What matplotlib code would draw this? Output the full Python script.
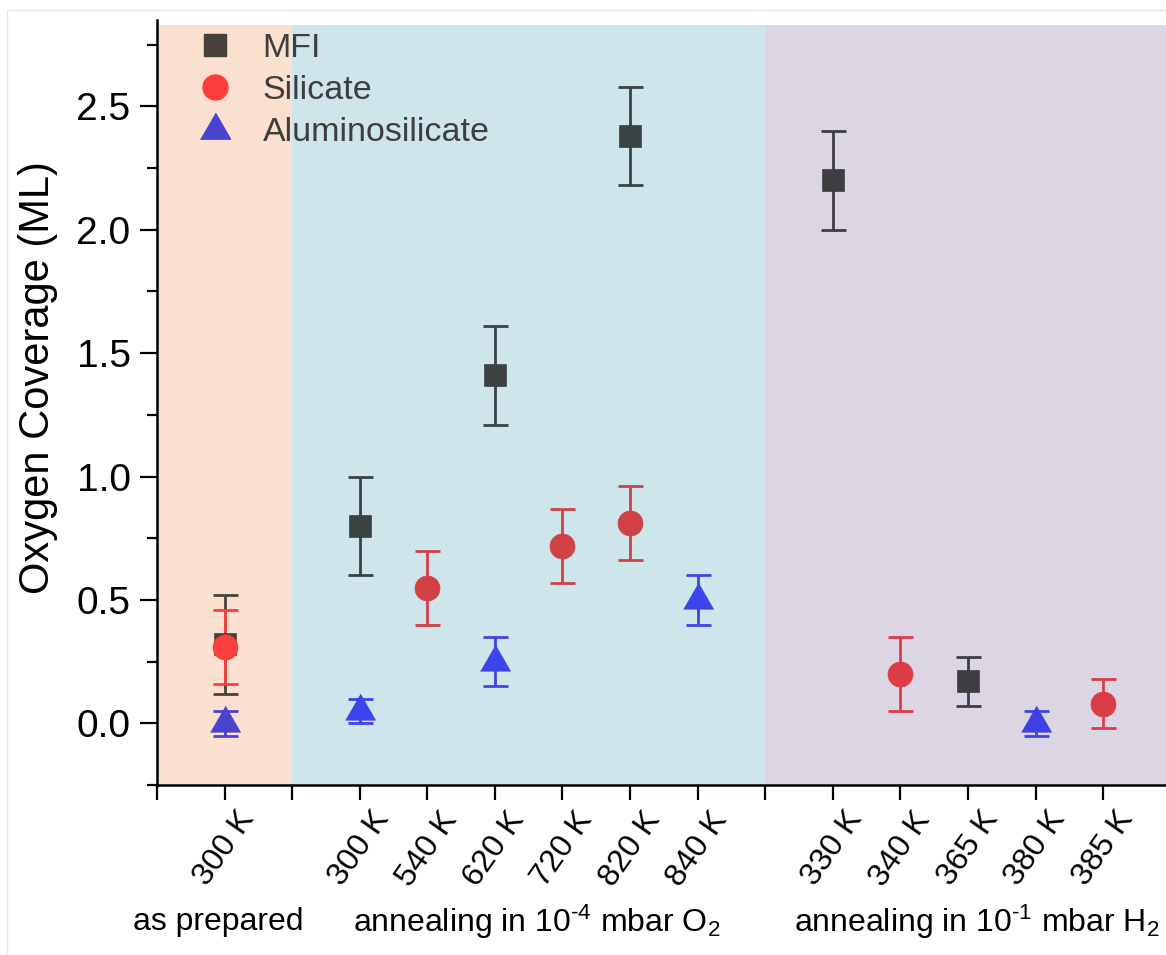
import numpy as np
import matplotlib.pyplot as plt
from matplotlib.lines import Line2D
from matplotlib.patches import Rectangle
from matplotlib.colors import to_rgb

plt.rcParams['font.family'] = ['Liberation Sans', 'DejaVu Sans']
plt.rcParams['mathtext.fontset'] = 'custom'
plt.rcParams['mathtext.rm'] = 'Liberation Sans'
plt.rcParams['mathtext.default'] = 'regular'

# groups of temperature steps
group_names = ['as prepared',
               r'annealing in 10$^{\text{-4}}$ mbar O$_2$',
               r'annealing in 10$^{\text{-1}}$ mbar H$_2$']
group_temps = [['300 K'],
               ['300 K', '540 K', '620 K', '720 K', '820 K', '840 K'],
               ['330 K', '340 K', '365 K', '380 K', '385 K']]

nan = np.nan
mfi = [0.32, 0.80, nan, 1.41, nan, 2.38, nan, 2.20, nan, 0.17, nan, nan]
mfi_err = [0.20, 0.20, nan, 0.20, nan, 0.20, nan, 0.20, nan, 0.10, nan, nan]
silicate = [0.31, nan, 0.55, nan, 0.72, 0.81, nan, nan, 0.20, nan, nan, 0.08]
silicate_err = [0.15, nan, 0.15, nan, 0.15, 0.15, nan, nan, 0.15, nan, nan, 0.10]
alumino = [0.0, 0.05, nan, 0.25, nan, nan, 0.50, nan, nan, nan, 0.0, nan]
alumino_err = [0.05, 0.05, nan, 0.10, nan, nan, 0.10, nan, nan, nan, 0.05, nan]

region_colors = ['#fbe0d0', '#cfe5ec', '#dcd6e4']
# equilateral triangle with its centroid on the data point
tri = [(-1, -0.577), (1, -0.577), (0, 1.155)]
series = [('MFI', mfi, mfi_err, 's', 16, '#484a4a'),
          ('Silicate', silicate, silicate_err, 'o', 18, '#ff484b'),
          ('Aluminosilicate', alumino, alumino_err, tri, 25, '#4a4cff')]


def multiply(c1, c2):
    a, b = np.array(to_rgb(c1)), np.array(to_rgb(c2))
    return tuple(a * b)


# positions: one empty slot between groups
xpos, xgroup, labels, bounds = [], [], [], [0]
x = 1
for g, temps in enumerate(group_temps):
    for t in temps:
        xpos.append(x)
        xgroup.append(g)
        labels.append(t)
        x += 1
    bounds.append(x)
    x += 1
xmax = bounds[-1] - 0.07

fig = plt.figure(figsize=(11.66, 9.55), dpi=100)
fig.patches.append(Rectangle((7 / 1166, -0.01), 1.0, 1 - 10 / 955 + 0.01,
                             transform=fig.transFigure, fill=False,
                             edgecolor='#e6e6e6', lw=1))
ax = fig.add_axes([157 / 1166, 1 - 785 / 955, 1 - 157 / 1166, 765 / 955])
ax.set_xlim(0, xmax)
ax.set_ylim(-0.25, 2.85)

for g in range(len(group_temps)):
    ax.axvspan(bounds[g], bounds[g + 1], ymax=(2.83 + 0.25) / 3.1,
               color=region_colors[g], lw=0, zorder=0)

handles = []
for name, vals, errs, mk, ms, base in series:
    for xi, g, v, e in zip(xpos, xgroup, vals, errs):
        if np.isnan(v):
            continue
        c = multiply(base, region_colors[g])
        ax.errorbar(xi, v, yerr=e, fmt='none', ecolor=c, elinewidth=2.0,
                    capsize=9, capthick=2.0, zorder=2)
        ax.plot(xi, v, marker=mk, ms=ms, color=c, mec=c, mew=0.5,
                ls='none', zorder=3)
    lc = multiply(base, region_colors[0])
    handles.append(Line2D([], [], marker=mk, ms=ms, color=lc, mec=lc,
                          ls='none', label=name))

leg = ax.legend(handles=handles, loc='upper left', frameon=False,
                bbox_to_anchor=(198 / 1166, 1 - 33 / 955),
                bbox_transform=fig.transFigure, fontsize=24.5,
                handlelength=1.0, handletextpad=0.9, labelspacing=0.33,
                borderpad=0, borderaxespad=0, labelcolor='#3e3e3e')

ax.set_xticks(range(0, bounds[-1]))
tick_labels = ['' for _ in range(bounds[-1])]
for xi, t in zip(xpos, labels):
    tick_labels[xi] = t
ax.set_xticklabels(tick_labels)
ax.tick_params(axis='x', labelsize=23, labelrotation=55, length=11,
               width=1.6, direction='out', pad=4)
ax.set_yticks(np.arange(0, 2.51, 0.5))
ax.set_yticks(np.arange(-0.25, 2.85, 0.25), minor=True)
ax.set_yticklabels(['%.1f' % v for v in np.arange(0, 2.51, 0.5)])
ax.tick_params(axis='y', labelsize=28, length=12, width=1.6, pad=7)
ax.tick_params(axis='y', which='minor', length=7, width=1.6)
for lab in ax.get_xticklabels():
    lab.set_ha('center')

ax.set_ylabel('Oxygen Coverage (ML)', fontsize=30)
ax.yaxis.set_label_coords(-0.098, 0.533)
for s in ['top', 'right']:
    ax.spines[s].set_visible(False)
for s in ['left', 'bottom']:
    ax.spines[s].set_linewidth(1.8)

group_centers = [218, 537, 977]
for gx, name in zip(group_centers, group_names):
    fig.text(gx / 1166, 1 - 922 / 955, name, fontsize=23,
             ha='center', va='center')

fig.savefig('out.png', dpi=100)
